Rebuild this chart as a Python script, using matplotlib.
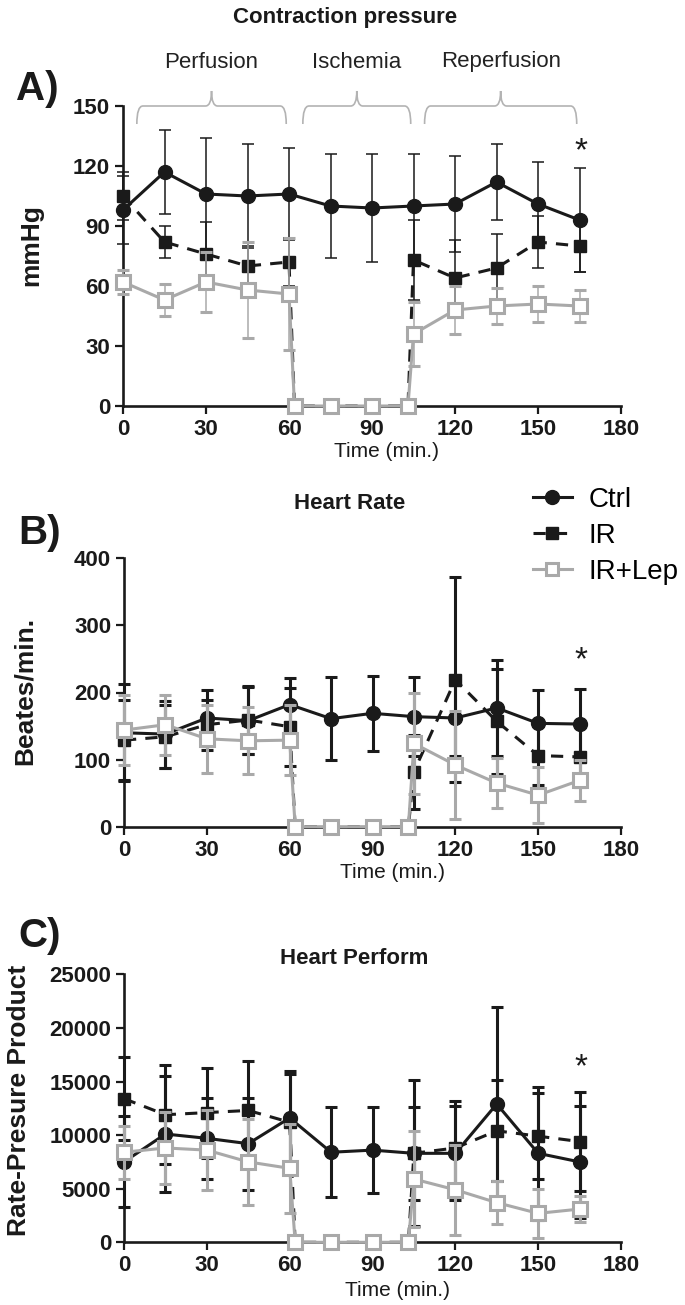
import matplotlib
matplotlib.use("Agg")
import matplotlib.pyplot as plt
from matplotlib.path import Path
from matplotlib.patches import PathPatch
from matplotlib.lines import Line2D

plt.rcParams['font.family'] = ['Liberation Sans', 'DejaVu Sans']

# ---------------- data ----------------
time_ctrl = [0, 15, 30, 45, 60, 75, 90, 105, 120, 135, 150, 165]
time_ir = [0, 15, 30, 45, 60, 62, 75, 90, 103, 105, 120, 135, 150, 165]

# A) Contraction pressure (mmHg)
ctrl_A = [98, 117, 106, 105, 106, 100, 99, 100, 101, 112, 101, 93]
ctrl_A_err = [17, 21, 28, 26, 23, 26, 27, 26, 24, 19, 21, 26]
ir_A = [105, 82, 76, 70, 72, 0, 0, 0, 0, 73, 64, 69, 82, 80]
ir_A_err = [12, 8, 16, 10, 12, 0, 0, 0, 0, 20, 19, 17, 13, 13]
lep_A = [62, 53, 62, 58, 56, 0, 0, 0, 0, 36, 48, 50, 51, 50]
lep_A_err = [6, 8, 15, 24, 28, 0, 0, 0, 0, 16, 12, 9, 9, 8]

# B) Heart rate (beats/min)
ctrl_B = [140, 138, 162, 158, 182, 161, 169, 164, 162, 177, 154, 153]
ctrl_B_err = [72, 50, 42, 50, 40, 62, 56, 59, 56, 72, 50, 52]
ir_B = [129, 134, 152, 159, 149, 0, 0, 0, 0, 82, 219, 157, 106, 104]
ir_B_err = [60, 47, 37, 50, 58, 0, 0, 0, 0, 55, 153, 78, 44, 45]
lep_B = [144, 152, 131, 128, 129, 0, 0, 0, 0, 124, 92, 65, 47, 69]
lep_B_err = [52, 45, 51, 50, 52, 0, 0, 0, 0, 76, 80, 37, 42, 30]

# C) Rate-pressure product
ctrl_C = [7500, 10100, 9700, 9200, 11600, 8400, 8600, 8300, 8300, 12900, 8300, 7500]
ctrl_C_err = [4250, 5400, 3800, 4300, 4350, 4200, 4000, 4350, 4400, 9050, 6200, 5200]
ir_C = [13400, 11900, 12100, 12300, 11200, 0, 0, 0, 0, 8300, 8800, 10400, 9900, 9400]
ir_C_err = [3900, 4600, 4200, 4600, 4500, 0, 0, 0, 0, 6800, 4350, 4700, 4000, 4600]
lep_C = [8400, 8800, 8600, 7500, 6900, 0, 0, 0, 0, 5900, 4900, 3700, 2700, 3100]
lep_C_err = [2450, 3400, 3700, 4000, 4150, 0, 0, 0, 0, 4500, 4200, 2000, 2300, 1250]

group_labels = ["Ctrl", "IR", "IR+Lep"]
phase_labels = ["Perfusion", "Ischemia", "Reperfusion"]
phase_ranges = [(5, 59), (65, 104), (109, 164)]
x_ticks = [0, 30, 60, 90, 120, 150, 180]

titles = ["Contraction pressure", "Heart Rate", "Heart Perform"]
ylabels = ["mmHg", "Beates/min.", "Rate-Presure Product"]
panel_letters = ["A)", "B)", "C)"]

BLACK = "#1a1a1a"
GREY = "#a9a9a9"

W, H = 685, 1305
fig = plt.figure(figsize=(W / 100, H / 100), dpi=100)


def ax_at(left, top, right, bottom):
    return fig.add_axes([left / W, 1 - bottom / H, (right - left) / W, (bottom - top) / H])


axA = ax_at(123, 106, 621, 406)
axB = ax_at(124, 558.3, 621, 826.7)
axC = ax_at(124, 974.3, 621, 1242.3)


def draw_panel(ax, c, ce, r, re_, l, le, ymax, ystep, elw):
    ax.errorbar(time_ctrl, c, yerr=ce, color=BLACK, lw=2.2, marker='o', ms=10,
                mfc=BLACK, mec=BLACK, elinewidth=elw, ecolor=BLACK, capsize=4,
                capthick=elw, clip_on=False, zorder=3)
    ax.errorbar(time_ir, r, yerr=re_, color=BLACK, lw=2.2, ls=(0, (4, 3)), marker='s',
                ms=9, mfc=BLACK, mec=BLACK, elinewidth=elw, ecolor=BLACK, capsize=4,
                capthick=elw, clip_on=False, zorder=4)
    ax.errorbar(time_ir, l, yerr=le, color=GREY, lw=2.2, marker='s', ms=9.5,
                mfc='white', mec=GREY, mew=2.2, elinewidth=elw, ecolor=GREY, capsize=4,
                capthick=elw, clip_on=False, zorder=5)
    ax.set_xlim(0, 180)
    ax.set_ylim(0, ymax)
    ax.set_xticks(x_ticks)
    ax.set_yticks(list(range(0, ymax + 1, ystep)))
    for s in ['top', 'right']:
        ax.spines[s].set_visible(False)
    for s in ['left', 'bottom']:
        ax.spines[s].set_linewidth(1.9)
        ax.spines[s].set_color(BLACK)
    ax.tick_params(direction='out', length=5.8, width=1.6, color=BLACK, pad=3.5,
                   labelsize=16)
    for lab in ax.get_xticklabels() + ax.get_yticklabels():
        lab.set_fontweight('bold')
        lab.set_color(BLACK)
    ax.patch.set_alpha(0)


draw_panel(axA, ctrl_A, ctrl_A_err, ir_A, ir_A_err, lep_A, lep_A_err, 150, 30, 1.1)
draw_panel(axB, ctrl_B, ctrl_B_err, ir_B, ir_B_err, lep_B, lep_B_err, 400, 100, 2.2)
draw_panel(axC, ctrl_C, ctrl_C_err, ir_C, ir_C_err, lep_C, lep_C_err, 25000, 5000, 2.2)

# axis labels
for ax, yl, xr, yc in [(axA, ylabels[0], -0.161, 0.537),
                       (axB, ylabels[1], -0.175, 0.506),
                       (axC, ylabels[2], -0.187, 0.53)]:
    ax.set_xlabel("Time (min.)", fontsize=15, color=BLACK)
    ax.set_ylabel(yl, fontsize=19, fontweight='bold', color=BLACK)
    ax.yaxis.set_label_coords(xr, yc)
axA.xaxis.set_label_coords(0.53, -0.12)
axB.xaxis.set_label_coords(0.54, -0.134)
axC.xaxis.set_label_coords(0.55, -0.145)

# significance stars
axA.text(165.5, 127, "*", fontsize=24, ha='center', va='center', color=BLACK)
axB.text(165.5, 248, "*", fontsize=24, ha='center', va='center', color=BLACK)
axC.text(165.5, 16260, "*", fontsize=24, ha='center', va='center', color=BLACK)


# braces for phases on panel A
def brace(ax, x0, x1, yl=150, yend=141, ypk=157.5):
    xc = (x0 + x1) / 2
    verts = [(x0, yend), (x0, yl), (x0 + 2.2, yl),
             (xc - 2.2, yl), (xc, yl), (xc, ypk),
             (xc, yl), (xc + 2.2, yl),
             (x1 - 2.2, yl), (x1, yl), (x1, yend)]
    codes = [Path.MOVETO, Path.CURVE3, Path.CURVE3,
             Path.LINETO, Path.CURVE3, Path.CURVE3,
             Path.CURVE3, Path.CURVE3,
             Path.LINETO, Path.CURVE3, Path.CURVE3]
    p = PathPatch(Path(verts, codes), fc='none', ec='#b3b3b3', lw=1.2, clip_on=False)
    ax.add_patch(p)
    return xc


for (x0, x1), lab in zip(phase_ranges, phase_labels):
    xc = brace(axA, x0, x1)
    axA.text(xc, 172, lab, fontsize=16, ha='center', va='center', color='#222222')

# titles and panel letters
fig.text(345 / W, 1 - 18 / H, titles[0], fontsize=16, fontweight='bold', ha='center', va='center', color=BLACK)
fig.text(350 / W, 1 - 503 / H, titles[1], fontsize=16, fontweight='bold', ha='center', va='center', color=BLACK)
fig.text(354 / W, 1 - 959 / H, titles[2], fontsize=16, fontweight='bold', ha='center', va='center', color=BLACK)
for letter, (px, py) in zip(panel_letters, [(16, 89), (18, 533), (18, 936)]):
    fig.text(px / W, 1 - py / H, letter, fontsize=29, fontweight='bold', ha='left', va='center', color=BLACK)

# legend
handles = [
    Line2D([], [], color=BLACK, lw=2.2, marker='o', ms=10, mfc=BLACK, mec=BLACK),
    Line2D([], [], color=BLACK, lw=2.2, ls=(0, (4, 3)), marker='s', ms=9, mfc=BLACK, mec=BLACK),
    Line2D([], [], color=GREY, lw=2.2, marker='s', ms=9, mfc='white', mec=GREY, mew=2.2),
]
fig.legend(handles, group_labels, loc='upper left', bbox_to_anchor=(533 / W, 1 - 487 / H),
           frameon=False, fontsize=20, handlelength=1.4, handletextpad=0.6,
           labelspacing=0.36, borderpad=0, borderaxespad=0)

fig.savefig("out.png", dpi=100)
